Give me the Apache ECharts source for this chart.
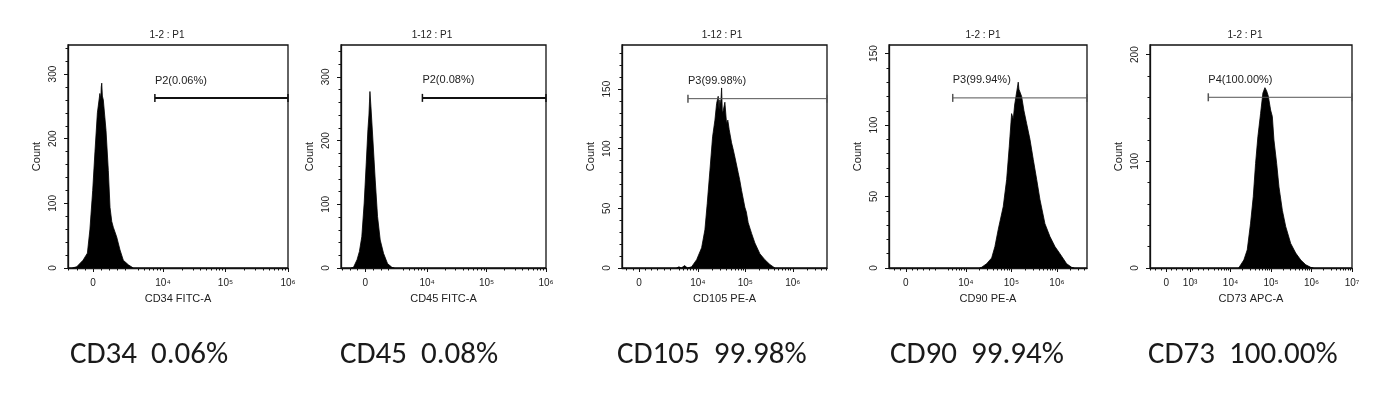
<!DOCTYPE html>
<html>
<head>
<meta charset="utf-8">
<script src="https://cdn.jsdelivr.net/npm/echarts@6/dist/echarts.min.js"></script>
<style>
  html, body { margin: 0; padding: 0; background: #fff; }
  #chart { width: 1380px; height: 397px; }
</style>
</head>
<body>
<div id="chart"></div>
<script>
// x values are display positions on the biexponential axis (10^n sits at n)
const panelTitles = ['1-2 : P1', '1-12 : P1', '1-12 : P1', '1-2 : P1', '1-2 : P1'];
const channelNames = ['CD34 FITC-A', 'CD45 FITC-A', 'CD105 PE-A', 'CD90 PE-A', 'CD73 APC-A'];
const summaryLabels = ['CD34  0.06%', 'CD45  0.08%', 'CD105  99.98%', 'CD90  99.94%', 'CD73  100.00%'];
const gateLabels = ['P2(0.06%)', 'P2(0.08%)', 'P3(99.98%)', 'P3(99.94%)', 'P4(100.00%)'];
const gateStart = [3.87, 3.92, 3.79, 3.71, 3.45];
const gateLevel = [263, 267, 142, 119, 160];

const xMin = [2.48, 2.55, 2.40, 2.31, 2.01];
const xMax = [6.0, 6.0, 6.72, 6.66, 7.0];
const zeroPos = [2.88, 2.96, 2.76, 2.68, 2.41];
const xDecades = [[4, 5, 6], [4, 5, 6], [4, 5, 6], [4, 5, 6], [3, 4, 5, 6, 7]];

const yMax = [345, 350, 187, 156, 209];
const yTicks = [[0, 100, 200, 300], [0, 100, 200, 300], [0, 50, 100, 150], [0, 50, 100, 150], [0, 100, 200]];

const cd34 = [[2.55, 0], [2.62, 2], [2.72, 12], [2.79, 23], [2.83, 59], [2.875, 120], [2.91, 178],
  [2.95, 240], [2.99, 270], [3.005, 262], [3.012, 280], [3.02, 286], [3.03, 266], [3.045, 260],
  [3.088, 213], [3.125, 151], [3.152, 94], [3.18, 72], [3.205, 63], [3.259, 48], [3.312, 28],
  [3.365, 12], [3.445, 5], [3.525, 0]];
const cd45 = [[2.72, 0], [2.76, 1], [2.82, 13], [2.86, 26], [2.90, 49], [2.94, 102], [2.975, 165],
  [3.003, 217], [3.02, 240], [3.03, 262], [3.037, 277], [3.054, 253], [3.087, 201], [3.126, 138],
  [3.165, 81], [3.21, 44], [3.266, 23], [3.333, 7], [3.407, 1], [3.45, 0]];
const cd105 = [[3.55, 0], [3.6, 1], [3.65, 0], [3.72, 2], [3.78, 0], [3.867, 1], [3.973, 7],
  [4.078, 17], [4.147, 32], [4.196, 54], [4.253, 82], [4.309, 110], [4.358, 124], [4.394, 138],
  [4.427, 144], [4.445, 133], [4.463, 141], [4.48, 136], [4.499, 151], [4.515, 130], [4.533, 132],
  [4.568, 139], [4.604, 121], [4.63, 124], [4.659, 116], [4.709, 105], [4.74, 100], [4.779, 93],
  [4.848, 80], [4.88, 74], [4.92, 65], [4.989, 51], [5.02, 47], [5.059, 38], [5.131, 29], [5.2, 21],
  [5.305, 12], [5.41, 7], [5.516, 3], [5.621, 0]];
const cd90 = [[4.3, 0], [4.345, 0.5], [4.455, 3], [4.565, 7], [4.637, 15], [4.71, 27], [4.82, 43],
  [4.895, 62], [4.952, 85], [5.004, 108], [5.04, 104], [5.07, 114], [5.099, 120], [5.13, 126],
  [5.149, 130], [5.165, 125], [5.187, 124], [5.224, 120], [5.275, 110], [5.334, 101], [5.407, 90],
  [5.479, 76], [5.554, 62], [5.626, 48], [5.736, 31], [5.846, 22], [5.956, 15], [6.066, 10],
  [6.213, 3], [6.323, 0.5], [6.38, 0]];
const cd73 = [[4.2, 0], [4.246, 0.6], [4.328, 7.5], [4.412, 17], [4.494, 42], [4.561, 67],
  [4.618, 98], [4.675, 123], [4.742, 145], [4.799, 164], [4.849, 169], [4.891, 166], [4.933, 161],
  [4.99, 148], [5.032, 142], [5.072, 120], [5.139, 98], [5.196, 76], [5.28, 54], [5.362, 39],
  [5.486, 23], [5.61, 14], [5.734, 7.5], [5.859, 3], [5.983, 0.6], [6.05, 0]];
const histograms = [cd34, cd45, cd105, cd90, cd73];

const grids = [
  { left: 68, top: 45, width: 220, height: 223 },
  { left: 341, top: 45, width: 205, height: 223 },
  { left: 622, top: 45, width: 205, height: 223 },
  { left: 889, top: 45, width: 198, height: 223 },
  { left: 1150, top: 45, width: 202, height: 223 }
];
const titleCenters = [167, 432, 722, 983, 1245];
const summaryLeft = [70, 340, 617, 890, 1148];
const gateThick = [true, true, false, false, false];

const SMALL_FONT = '"Liberation Sans", Arial, sans-serif';
const SUP = { 3: '10³', 4: '10⁴', 5: '10⁵', 6: '10⁶', 7: '10⁷' };

function xMinorTicks(i) {
  const ticks = [];
  const step = 0.13;
  for (let v = zeroPos[i] - step; v > xMin[i]; v -= step) ticks.push(v);
  for (let v = zeroPos[i] + step; v < 3.45; v += step) ticks.push(v);
  for (let n = 3; n < 8; n++) {
    for (let k = 2; k <= 9; k++) {
      const p = n + Math.log10(k);
      if (p > 3.5 && p < xMax[i]) ticks.push(p);
    }
  }
  return ticks;
}

function yMinorTicks(i) {
  const step = (yTicks[i][1] - yTicks[i][0]) / 5;
  const ticks = [];
  for (let v = step; v < yMax[i]; v += step) ticks.push(v);
  return ticks;
}

const chart = echarts.init(document.getElementById('chart'));

const option = {
  animation: false,
  backgroundColor: '#fff',
  title: [],
  grid: [],
  xAxis: [],
  yAxis: [],
  series: []
};

for (let i = 0; i < 5; i++) {
  option.grid.push(Object.assign({ show: true, borderColor: '#111', borderWidth: 1.3 }, grids[i]));

  option.title.push({
    text: panelTitles[i],
    left: titleCenters[i],
    top: 30,
    padding: 0,
    textAlign: 'center',
    textStyle: { fontSize: 10, fontWeight: 'normal', color: '#222', fontFamily: SMALL_FONT }
  });
  option.title.push({
    text: summaryLabels[i],
    left: summaryLeft[i],
    top: 340,
    padding: 0,
    textStyle: {
      fontSize: 31, fontWeight: 'normal', color: '#1a1a1a',
      fontFamily: 'Carlito, "Liberation Sans Narrow", "Open Sans", sans-serif'
    }
  });

  const majors = [zeroPos[i]].concat(xDecades[i]);
  option.xAxis.push({
    type: 'value',
    gridIndex: i,
    min: xMin[i],
    max: xMax[i],
    axisLine: { show: true, onZero: false, lineStyle: { color: '#111', width: 1.3 } },
    axisTick: { show: true, length: 4, customValues: majors, lineStyle: { color: '#111' } },
    axisLabel: {
      customValues: majors,
      formatter: (v) => (v === zeroPos[i] ? '0' : SUP[v]),
      fontSize: 10, color: '#222', margin: 10, fontFamily: SMALL_FONT
    },
    splitLine: { show: false },
    name: channelNames[i],
    nameLocation: 'middle',
    nameGap: 25,
    nameTextStyle: { fontSize: 11, color: '#222', fontFamily: SMALL_FONT }
  });
  option.xAxis.push({
    type: 'value',
    gridIndex: i,
    position: 'bottom',
    min: xMin[i],
    max: xMax[i],
    axisLine: { show: false },
    axisTick: { show: true, length: 2.5, customValues: xMinorTicks(i), lineStyle: { color: '#111' } },
    axisLabel: { show: false },
    splitLine: { show: false }
  });

  option.yAxis.push({
    type: 'value',
    gridIndex: i,
    min: 0,
    max: yMax[i],
    axisLine: { show: true, lineStyle: { color: '#111', width: 1.3 } },
    axisTick: { show: true, length: 4, customValues: yTicks[i], lineStyle: { color: '#111' } },
    axisLabel: {
      customValues: yTicks[i],
      rotate: 90,
      fontSize: 10, color: '#222', margin: 10, fontFamily: SMALL_FONT
    },
    splitLine: { show: false },
    name: 'Count',
    nameLocation: 'middle',
    nameGap: 26,
    nameRotate: 90,
    nameTextStyle: { fontSize: 11, color: '#222', fontFamily: SMALL_FONT }
  });
  option.yAxis.push({
    type: 'value',
    gridIndex: i,
    position: 'left',
    min: 0,
    max: yMax[i],
    axisLine: { show: false },
    axisTick: { show: true, length: 2.5, customValues: yMinorTicks(i), lineStyle: { color: '#111' } },
    axisLabel: { show: false },
    splitLine: { show: false }
  });

  option.series.push({
    type: 'line',
    xAxisIndex: 2 * i,
    yAxisIndex: 2 * i,
    data: histograms[i],
    symbol: 'none',
    lineStyle: { color: '#000', width: 0.8 },
    areaStyle: { color: '#000', opacity: 1 },
    silent: true
  });

  const gateColor = gateThick[i] ? '#111' : '#555';
  option.series.push({
    type: 'line',
    xAxisIndex: 2 * i,
    yAxisIndex: 2 * i,
    data: [
      {
        value: [gateStart[i], gateLevel[i]],
        label: {
          show: true, formatter: gateLabels[i], position: 'top', align: 'left', distance: 8,
          fontSize: 11, color: '#222', fontFamily: SMALL_FONT
        }
      },
      [xMax[i], gateLevel[i]]
    ],
    symbol: 'rect',
    symbolSize: [1.5, 8],
    showSymbol: true,
    clip: false,
    lineStyle: { color: gateColor, width: gateThick[i] ? 2 : 1 },
    itemStyle: { color: gateColor },
    silent: true,
    z: 5
  });
}

chart.setOption(option);
</script>
</body>
</html>
